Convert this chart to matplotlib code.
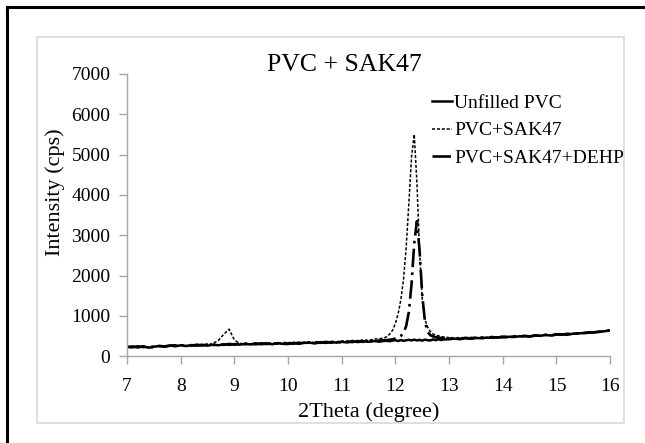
import matplotlib

matplotlib.use("Agg")
import matplotlib.pyplot as plt
from matplotlib.lines import Line2D
from matplotlib.patches import Rectangle

# 2Theta grid (coarse away from the main peak, finer around 12.3)
two_theta = [
    7.0, 7.1, 7.2, 7.3, 7.4, 7.5, 7.6, 7.7, 7.8, 7.9,
    8.0, 8.1, 8.2, 8.3, 8.4, 8.5, 8.6, 8.7, 8.8, 8.9,
    9.0, 9.1, 9.2, 9.3, 9.4, 9.5, 9.6, 9.7, 9.8, 9.9,
    10.0, 10.1, 10.2, 10.3, 10.4, 10.5, 10.6, 10.7, 10.8, 10.9,
    11.0, 11.1, 11.2, 11.3, 11.4, 11.5, 11.6, 11.7, 11.8,
    11.85, 11.9, 11.95, 12.0, 12.05, 12.1, 12.15, 12.2, 12.25, 12.3,
    12.35, 12.4, 12.45, 12.5, 12.55, 12.6, 12.65, 12.7, 12.75, 12.8,
    12.85, 12.9,
    13.0, 13.1, 13.2, 13.3, 13.4, 13.5, 13.6, 13.7, 13.8, 13.9,
    14.0, 14.1, 14.2, 14.3, 14.4, 14.5, 14.6, 14.7, 14.8, 14.9,
    15.0, 15.1, 15.2, 15.3, 15.4, 15.5, 15.6, 15.7, 15.8, 15.9, 16.0,
]

unfilled_pvc = [
    225, 240, 215, 245, 210, 235, 250, 235, 265, 245,
    270, 250, 275, 260, 280, 260, 285, 270, 295, 280,
    300, 285, 305, 290, 310, 295, 315, 295, 320, 305,
    300, 325, 305, 330, 335, 315, 345, 330, 350, 335,
    355, 340, 365, 350, 370, 355, 375, 360, 380,
    380, 370, 390, 395, 375, 400, 380, 395, 405, 390,
    410, 390, 405, 385, 410, 395, 390, 415, 395, 420,
    400, 415,
    420, 435, 420, 445, 430, 450, 445, 460, 455, 470,
    465, 480, 475, 490, 495, 485, 510, 505, 525, 510,
    535, 545, 530, 555, 560, 575, 580, 595, 600, 620, 635,
]

pvc_sak47 = [
    235, 245, 225, 255, 220, 250, 245, 260, 265, 255,
    280, 260, 285, 270, 295, 280, 315, 390, 540, 670,
    400, 310, 325, 305, 330, 310, 335, 315, 340, 320,
    335, 345, 325, 350, 355, 335, 365, 345, 370, 355,
    380, 360, 390, 375, 405, 390, 425, 430, 460,
    490, 560, 650, 820, 1050, 1400, 1900, 2700, 3800, 4950,
    5500, 4300, 2600, 1400, 900, 720, 610, 550, 520, 505,
    490, 475,
    460, 445, 465, 445, 470, 450, 475, 460, 485, 470,
    495, 480, 500, 495, 510, 495, 520, 515, 535, 520,
    550, 545, 540, 565, 570, 580, 590, 600, 610, 625, 645,
]

pvc_sak47_dehp = [
    230, 220, 245, 225, 240, 215, 255, 240, 260, 270,
    255, 275, 260, 285, 265, 290, 275, 295, 280, 305,
    285, 310, 295, 315, 295, 320, 300, 325, 310, 330,
    315, 310, 335, 315, 340, 345, 330, 355, 335, 360,
    340, 365, 350, 375, 355, 380, 365, 390, 395,
    400, 410, 420, 440, 460, 500, 580, 750, 1100, 1800,
    2800, 3350, 2600, 1500, 850, 600, 520, 490, 470, 460,
    450, 445,
    440, 450, 430, 455, 440, 460, 455, 450, 475, 460,
    485, 470, 495, 480, 505, 490, 515, 510, 530, 515,
    545, 530, 555, 550, 570, 570, 590, 590, 610, 615, 650,
]

series_labels = ["Unfilled PVC", "PVC+SAK47", "PVC+SAK47+DEHP"]
x_ticks = [7, 8, 9, 10, 11, 12, 13, 14, 15, 16]
y_ticks = [0, 1000, 2000, 3000, 4000, 5000, 6000, 7000]

plt.rcParams["font.family"] = ["Liberation Serif", "DejaVu Serif"]

fig = plt.figure(figsize=(6.45, 4.43), dpi=100)
ax = fig.add_axes([0.197, 0.196, 0.749, 0.637])

solid = dict(color="black", lw=1.8)
dotted = dict(color="black", lw=1.1, linestyle=(0, (2, 1.2)))
dashdot = dict(color="black", lw=1.9, linestyle=(0, (7, 2, 1, 2)))

ax.plot(two_theta, unfilled_pvc, label=series_labels[0], **solid)
ax.plot(two_theta, pvc_sak47, label=series_labels[1], **dotted)
ax.plot(two_theta, pvc_sak47_dehp, label=series_labels[2], **dashdot)

ax.set_xlim(7, 16)
ax.set_ylim(0, 7000)
ax.set_xticks(x_ticks)
ax.set_yticks(y_ticks)
ax.tick_params(axis="both", labelsize=14, colors="#a6a6a6", labelcolor="black",
               direction="out", length=6, width=1)
ax.tick_params(axis="x", pad=10)
ax.tick_params(axis="y", pad=6)
for side in ("top", "right"):
    ax.spines[side].set_visible(False)
for side in ("left", "bottom"):
    ax.spines[side].set_color("#a6a6a6")
    ax.spines[side].set_linewidth(1)

ax.set_xlabel("2Theta (degree)", fontsize=16, labelpad=5)
ax.set_ylabel("Intensity (cps)", fontsize=16)
ax.yaxis.set_label_coords(-0.128, 0.58)

handles = [Line2D([], [], **solid), Line2D([], [], **dotted), Line2D([], [], **dashdot)]
ax.legend(handles, series_labels, loc="upper left", bbox_to_anchor=(432 / 645, 1 - 94 / 443),
          bbox_transform=fig.transFigure, frameon=False, fontsize=14,
          handlelength=1.05, handletextpad=0.1, labelspacing=0.52,
          borderaxespad=0, borderpad=0)

fig.text(0.534, 0.853, "PVC + SAK47", fontsize=18.5, ha="center", va="center")

# Chart area frame and the cropped page border
fig.patches.append(Rectangle((37 / 645, 1 - 423 / 443), 587 / 645, 386 / 443,
                             transform=fig.transFigure, fill=False,
                             edgecolor="#d9d9d9", lw=1.2))
fig.lines.append(Line2D([7 / 645, 1], [1 - 7 / 443, 1 - 7 / 443],
                        transform=fig.transFigure, color="black", lw=2.2))
fig.lines.append(Line2D([7 / 645, 7 / 645], [0, 1 - 7 / 443],
                        transform=fig.transFigure, color="black", lw=2.2))

fig.savefig("out.png", dpi=100)
